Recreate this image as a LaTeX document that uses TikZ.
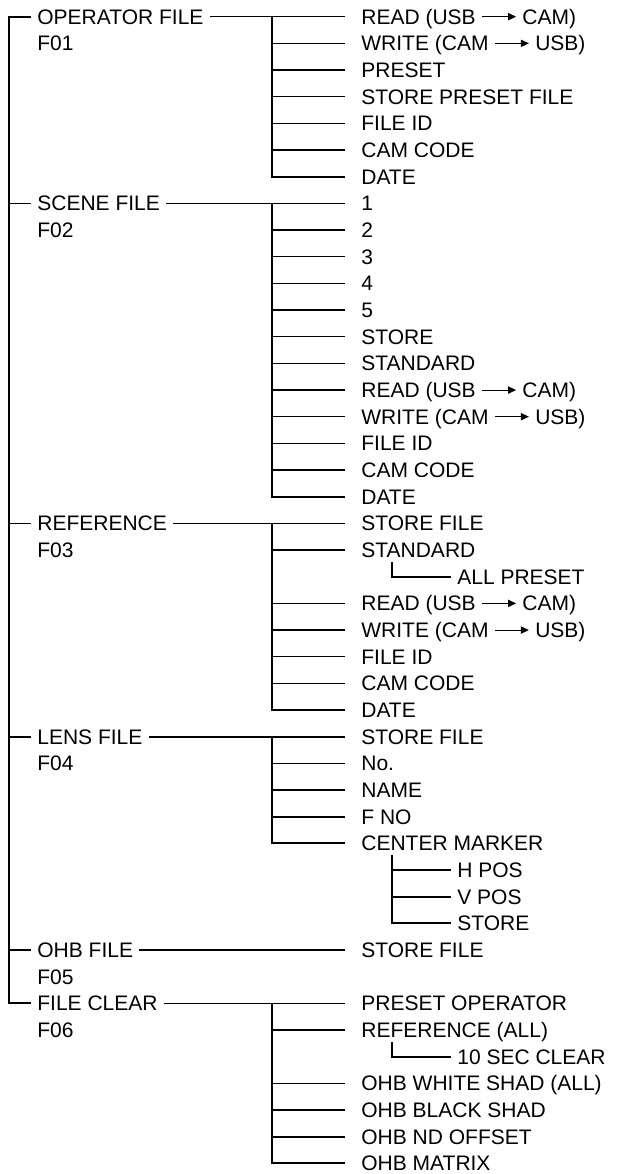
\documentclass[tikz,border=0pt]{standalone}
\usepackage{fontspec}
\setmainfont{Liberation Sans}
\usepackage{tikz}
\usetikzlibrary{arrows.meta}

\newcommand{\usbto}{\tikz[baseline]\draw[line width=0.55pt,-{Triangle[length=4pt,width=3.6pt]}] (0pt,3.75pt) -- (17pt,3.75pt);}

\begin{document}
\begin{tikzpicture}[
  x=0.5pt, y=-13.335pt,
  label/.style={inner ysep=0pt, text height=7.5pt, text depth=0pt,
                font=\fontsize{10.5}{12}\selectfont},
  cat/.style={label, anchor=west, inner xsep=3pt},
  item/.style={label, anchor=west, inner xsep=8pt},
  sub/.style={label, anchor=west, inner xsep=3pt},
  trunk/.style={line width=1pt},
  branch/.style={line width=0.75pt}
]
\useasboundingbox (0,-0.626) rectangle (617,43.396);
\coordinate (root) at (9,0);

% OPERATOR FILE
\node[cat]  (opfile)  at (31,0)  {OPERATOR FILE};
\node[cat]  (opcode)  at (31,1)  {F01};
\node[item] (opread)  at (345,0) {READ (USB \usbto\ CAM)};
\node[item] (opwrite) at (345,1) {WRITE (CAM \usbto\ USB)};
\node[item] (oppre)   at (345,2) {PRESET};
\node[item] (opstore) at (345,3) {STORE PRESET FILE};
\node[item] (opid)    at (345,4) {FILE ID};
\node[item] (opcam)   at (345,5) {CAM CODE};
\node[item] (opdate)  at (345,6) {DATE};

% SCENE FILE
\node[cat]  (scfile)  at (31,7)   {SCENE FILE};
\node[cat]  (sccode)  at (31,8)   {F02};
\node[item] (scone)   at (345,7)  {1};
\node[item] (sctwo)   at (345,8)  {2};
\node[item] (scthree) at (345,9)  {3};
\node[item] (scfour)  at (345,10) {4};
\node[item] (scfive)  at (345,11) {5};
\node[item] (scstore) at (345,12) {STORE};
\node[item] (scstd)   at (345,13) {STANDARD};
\node[item] (scread)  at (345,14) {READ (USB \usbto\ CAM)};
\node[item] (scwrite) at (345,15) {WRITE (CAM \usbto\ USB)};
\node[item] (scid)    at (345,16) {FILE ID};
\node[item] (sccam)   at (345,17) {CAM CODE};
\node[item] (scdate)  at (345,18) {DATE};

% REFERENCE
\node[cat]  (reffile)  at (31,19)  {REFERENCE};
\node[cat]  (refcode)  at (31,20)  {F03};
\node[item] (refstore) at (345,19) {STORE FILE};
\node[item] (refstd)   at (345,20) {STANDARD};
\node[sub]  (refall)   at (451,21) {ALL PRESET};
\node[item] (refread)  at (345,22) {READ (USB \usbto\ CAM)};
\node[item] (refwrite) at (345,23) {WRITE (CAM \usbto\ USB)};
\node[item] (refid)    at (345,24) {FILE ID};
\node[item] (refcam)   at (345,25) {CAM CODE};
\node[item] (refdate)  at (345,26) {DATE};

% LENS FILE
\node[cat]  (lensfile)  at (31,27)  {LENS FILE};
\node[cat]  (lenscode)  at (31,28)  {F04};
\node[item] (lensstfile) at (345,27) {STORE FILE};
\node[item] (lensno)    at (345,28) {No.};
\node[item] (lensname)  at (345,29) {NAME};
\node[item] (lensfno)   at (345,30) {F NO};
\node[item] (lensmark)  at (345,31) {CENTER MARKER};
\node[sub]  (lenshpos)  at (451,32) {H POS};
\node[sub]  (lensvpos)  at (451,33) {V POS};
\node[sub]  (lensstore) at (451,34) {STORE};

% OHB FILE
\node[cat]  (ohbfile)  at (31,35)  {OHB FILE};
\node[cat]  (ohbcode)  at (31,36)  {F05};
\node[item] (ohbstore) at (345,35) {STORE FILE};

% FILE CLEAR
\node[cat]  (clrfile)  at (31,37)  {FILE CLEAR};
\node[cat]  (clrcode)  at (31,38)  {F06};
\node[item] (clrpre)   at (345,37) {PRESET OPERATOR};
\node[item] (clrref)   at (345,38) {REFERENCE (ALL)};
\node[sub]  (clrsec)   at (451,39) {10 SEC CLEAR};
\node[item] (clrwhite) at (345,40) {OHB WHITE SHAD (ALL)};
\node[item] (clrblack) at (345,41) {OHB BLACK SHAD};
\node[item] (clrnd)    at (345,42) {OHB ND OFFSET};
\node[item] (clrmatrix) at (345,43) {OHB MATRIX};

% main trunk
\draw[trunk] (opfile.west) -- (root) -- (root |- clrfile.west) -- (clrfile.west);
\draw[branch] (root |- scfile.west)   -- (scfile.west);
\draw[branch] (root |- reffile.west)  -- (reffile.west);
\draw[branch] (root |- lensfile.west) -- (lensfile.west);
\draw[branch] (root |- ohbfile.west)  -- (ohbfile.west);

% operator branches
\coordinate (opj) at (272,0);
\draw[branch] (opfile.east) -- (opread.west);
\draw[trunk] (opj) -- (opj |- opdate.west) -- (opdate.west);
\draw[branch] (opj |- opwrite.west) -- (opwrite.west);
\draw[branch] (opj |- oppre.west)   -- (oppre.west);
\draw[branch] (opj |- opstore.west) -- (opstore.west);
\draw[branch] (opj |- opid.west)    -- (opid.west);
\draw[branch] (opj |- opcam.west)   -- (opcam.west);

% scene branches
\coordinate (scj) at (272,7);
\draw[branch] (scfile.east) -- (scone.west);
\draw[trunk] (scj) -- (scj |- scdate.west) -- (scdate.west);
\draw[branch] (scj |- sctwo.west)   -- (sctwo.west);
\draw[branch] (scj |- scthree.west) -- (scthree.west);
\draw[branch] (scj |- scfour.west)  -- (scfour.west);
\draw[branch] (scj |- scfive.west)  -- (scfive.west);
\draw[branch] (scj |- scstore.west) -- (scstore.west);
\draw[branch] (scj |- scstd.west)   -- (scstd.west);
\draw[branch] (scj |- scread.west)  -- (scread.west);
\draw[branch] (scj |- scwrite.west) -- (scwrite.west);
\draw[branch] (scj |- scid.west)    -- (scid.west);
\draw[branch] (scj |- sccam.west)   -- (sccam.west);

% reference branches
\coordinate (refj) at (272,19);
\coordinate (refsub) at (392,20.44);
\draw[branch] (reffile.east) -- (refstore.west);
\draw[trunk] (refj) -- (refj |- refdate.west) -- (refdate.west);
\draw[branch] (refj |- refstd.west)   -- (refstd.west);
\draw[branch] (refj |- refread.west)  -- (refread.west);
\draw[branch] (refj |- refwrite.west) -- (refwrite.west);
\draw[branch] (refj |- refid.west)    -- (refid.west);
\draw[branch] (refj |- refcam.west)   -- (refcam.west);
\draw[trunk] (refsub) -- (refsub |- refall.west) -- (refall.west);

% lens branches
\coordinate (lensj) at (272,27);
\coordinate (lenssub) at (392,31.44);
\draw[branch] (lensfile.east) -- (lensstfile.west);
\draw[trunk] (lensj) -- (lensj |- lensmark.west) -- (lensmark.west);
\draw[branch] (lensj |- lensno.west)   -- (lensno.west);
\draw[branch] (lensj |- lensname.west) -- (lensname.west);
\draw[branch] (lensj |- lensfno.west)  -- (lensfno.west);
\draw[trunk] (lenssub) -- (lenssub |- lensstore.west) -- (lensstore.west);
\draw[branch] (lenssub |- lenshpos.west) -- (lenshpos.west);
\draw[branch] (lenssub |- lensvpos.west) -- (lensvpos.west);

% ohb
\draw[branch] (ohbfile.east) -- (ohbstore.west);

% clear branches
\coordinate (clrj) at (272,37);
\coordinate (clrsub) at (392,38.44);
\draw[branch] (clrfile.east) -- (clrpre.west);
\draw[trunk] (clrj) -- (clrj |- clrmatrix.west) -- (clrmatrix.west);
\draw[branch] (clrj |- clrref.west)   -- (clrref.west);
\draw[branch] (clrj |- clrwhite.west) -- (clrwhite.west);
\draw[branch] (clrj |- clrblack.west) -- (clrblack.west);
\draw[branch] (clrj |- clrnd.west)    -- (clrnd.west);
\draw[trunk] (clrsub) -- (clrsub |- clrsec.west) -- (clrsec.west);
\end{tikzpicture}
\end{document}
